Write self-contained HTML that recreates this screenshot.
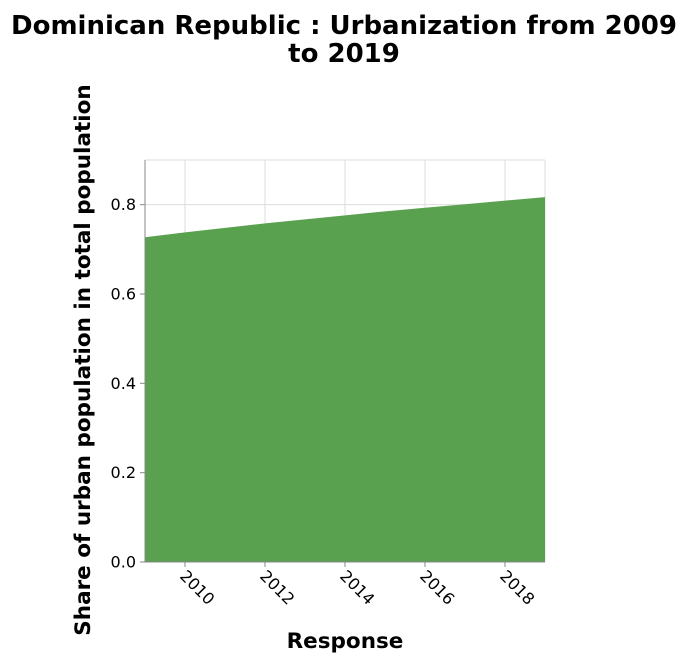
<!DOCTYPE html>
<html><head><meta charset="utf-8"><style>
body{margin:0;background:#fff;}
svg text{font-family:"DejaVu Sans","Liberation Sans",sans-serif;}
</style></head><body>
<svg width="688" height="664">
<g id="chart"></g>
</svg>
<script>
const years=[2009,2010,2011,2012,2013,2014,2015,2016,2017,2018,2019];
const shares=[0.727,0.738,0.748,0.758,0.767,0.776,0.785,0.793,0.801,0.809,0.817];
const xTicks=[2010,2012,2014,2016,2018];
const yTicks=[0,0.2,0.4,0.6,0.8];
const L=145,R=545,T=160,B=562;
const x=v=>L+(v-2009)/(2019-2009)*(R-L);
const y=v=>B-v/0.9*(B-T);
const g=document.getElementById('chart');
const NS='http://www.w3.org/2000/svg';
function mk(t,a,txt){const e=document.createElementNS(NS,t);for(const k in a)e.setAttribute(k,a[k]);if(txt!==undefined)e.textContent=txt;g.appendChild(e);return e;}
xTicks.forEach(v=>{const e=mk('line',{x1:x(v),x2:x(v),y1:T,y2:B,stroke:'#ddd'});

});
yTicks.concat([0.9]).forEach(v=>{const e=mk('line',{x1:L,x2:R,y1:y(v),y2:y(v),stroke:'#ddd'});

});
mk('line',{x1:R,x2:R,y1:T,y2:B,stroke:'#ddd'});
let d='M'+x(years[0])+','+y(0);
years.forEach((yr,i)=>{d+=' L'+x(yr)+','+y(shares[i]);});
d+=' L'+x(years[years.length-1])+','+y(0)+' Z';
const a=mk('path',{d:d,fill:'#59a14f'});


mk('line',{x1:L,x2:L,y1:T,y2:B,stroke:'#888'});
mk('line',{x1:L,x2:R,y1:B,y2:B,stroke:'#888'});
yTicks.forEach(v=>{mk('line',{x1:L-5,x2:L,y1:y(v),y2:y(v),stroke:'#888'});
const t=mk('text',{x:L-9,y:y(v)+5.5,'text-anchor':'end','font-size':'16',fill:'#000'},v.toFixed(1));

});
xTicks.forEach(v=>{mk('line',{x1:x(v),x2:x(v),y1:B,y2:B+5,stroke:'#888'});
const t=mk('text',{x:x(v)-6,y:B+15,'font-size':'16',fill:'#000',transform:'rotate(45 '+(x(v)-6)+' '+(B+15)+')'},String(v));

});
let t=mk('text',{x:345,y:648,'text-anchor':'middle','font-size':'21.5','font-weight':'bold'},'Response');


t=mk('text',{x:90,y:360,'text-anchor':'middle','font-size':'21.5','font-weight':'bold',transform:'rotate(-90 90 360)'},'Share of urban population in total population');


t=mk('text',{x:344,y:34,'text-anchor':'middle','font-size':'26','font-weight':'bold'},'Dominican Republic : Urbanization from 2009');


t=mk('text',{x:344,y:62,'text-anchor':'middle','font-size':'26','font-weight':'bold'},'to 2019');


</script>
</body></html>
